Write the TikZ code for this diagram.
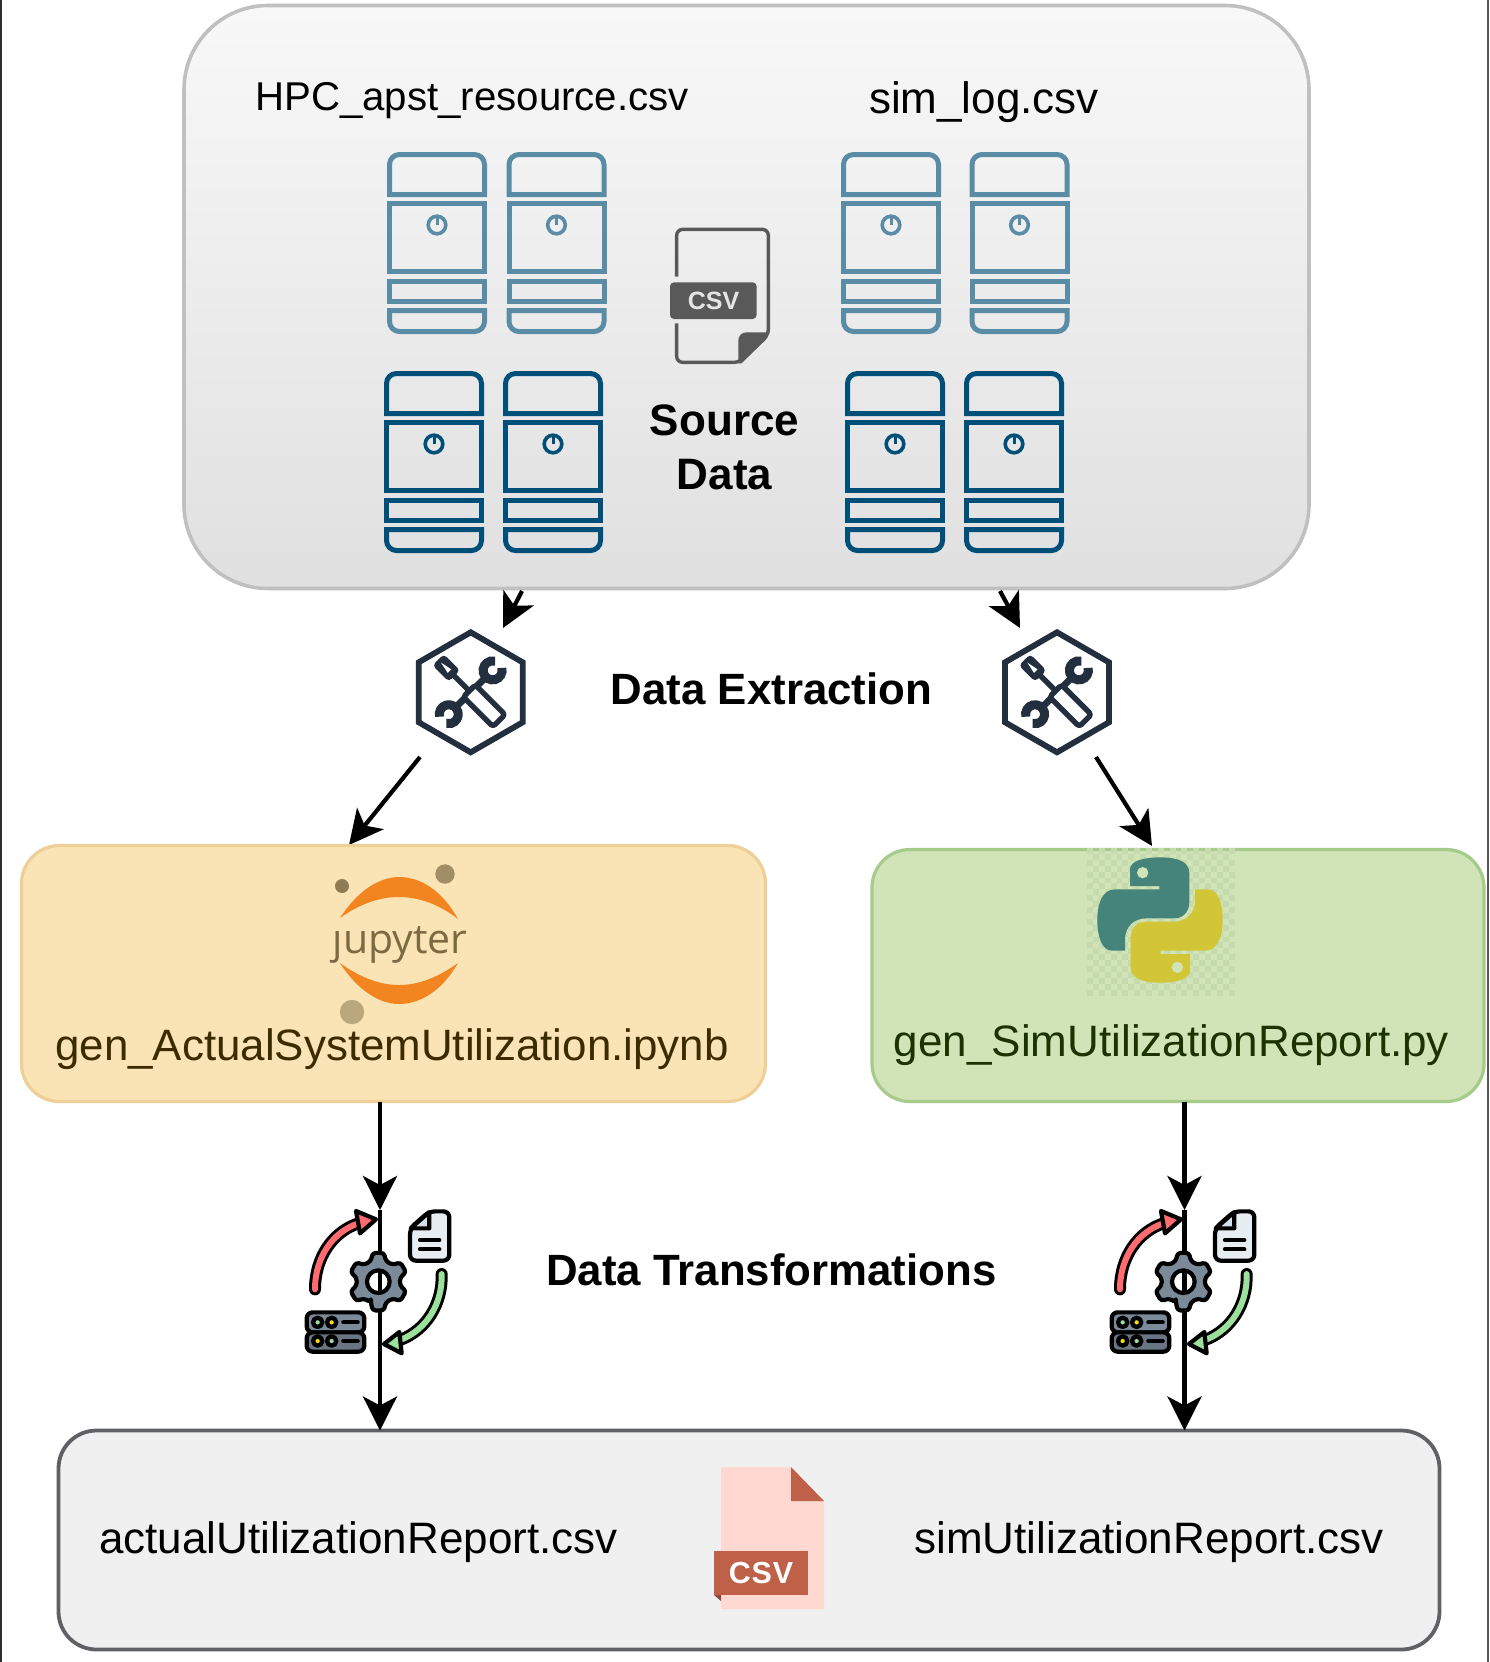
\documentclass[tikz,border=0pt]{standalone}
\usepackage{fontspec}
\setmainfont{Liberation Sans}
\newfontfamily\jupfont{Open Sans}
\newfontfamily\csvfont[LetterSpace=3]{Liberation Sans}
\usetikzlibrary{arrows.meta,shapes.geometric}
\definecolor{srvA}{HTML}{5B8CA5}
\definecolor{srvB}{HTML}{004F78}
\definecolor{hexc}{HTML}{232F3E}
\definecolor{docg}{HTML}{595959}
\definecolor{jupfill}{HTML}{FAE3B4}
\definecolor{jupline}{HTML}{EFCF98}
\definecolor{pyfill}{HTML}{D0E4B8}
\definecolor{pyline}{HTML}{A6CB8A}
\definecolor{repfill}{HTML}{F0F0F0}
\definecolor{repline}{HTML}{5F6164}
\definecolor{srcline}{HTML}{C0C0C0}
\definecolor{srctop}{HTML}{F8F8F8}
\definecolor{srcbot}{HTML}{E0E0E0}
\definecolor{jorange}{HTML}{F38520}
\definecolor{jtext}{HTML}{7B6A42}
\definecolor{pyblue}{HTML}{45847A}
\definecolor{pyyel}{HTML}{D3C636}
\definecolor{pycheck}{HTML}{C5DAAD}
\definecolor{gearc}{HTML}{7B8A99}
\definecolor{redar}{HTML}{FF6B6F}
\definecolor{grnar}{HTML}{9BE09B}
\definecolor{docc}{HTML}{E8EDF2}
\definecolor{docf}{HTML}{D5DFE8}
\definecolor{ripage}{HTML}{FFD9D1}
\definecolor{riband}{HTML}{BF6049}
\definecolor{jb}{HTML}{3D2B00}
\definecolor{pb}{HTML}{1C3300}
\tikzset{
  arr/.style={draw=black,line width=2.1pt,-{Stealth[length=17pt,width=17pt,inset=4.5pt]}},
  box/.style={rectangle,inner sep=0pt,outer sep=0pt},
  lbl/.style={inner sep=0pt,anchor=base,font=\fontsize{22}{26}\selectfont},
  blbl/.style={inner sep=0pt,anchor=base,font=\fontsize{21.9}{26}\selectfont\bfseries},
  hexn/.style={regular polygon,regular polygon sides=6,regular polygon rotate=30,draw=hexc,line width=2.9pt,minimum size=60pt,inner sep=0pt,outer sep=0pt},
  iconbox/.style={inner sep=0pt,outer sep=0pt,minimum width=71pt,minimum height=71pt},
  srvline/.style={line width=2.5pt},
  blk/.style={draw=black,line width=2.1pt,line join=round,line cap=round},
}
\newcommand{\srvicon}[3]{%
  \begin{scope}[shift={(#1,#2)},srvline,draw=#3,line join=miter]
    \draw[#3] (2.5,42.5) [rounded corners=5pt]-- (2.5,2.5) -- (97.5,2.5) [sharp corners]-- (97.5,42.5) -- cycle;
    \draw[#3] (2.5,51.5) rectangle (97.5,119.5);
    \draw[#3] (2.5,129.5) rectangle (97.5,149.5);
    \draw[#3] (2.5,158.5) [rounded corners=5pt]-- (2.5,179.5) -- (97.5,179.5) [sharp corners]-- (97.5,158.5) -- cycle;
    \draw[#3,line width=1.8pt] (50,73) circle (8.8);
    \draw[#3,line width=1.5pt] (50,63.5) -- (50,73);
  \end{scope}}
\newcommand{\toolicon}[2]{%
  \begin{scope}[shift={(#1,#2)},rotate=-45,hexc]
    \fill[hexc,rounded corners=2pt] (-46,-8) rectangle (-23,8);
    \fill[white] (-42,0) -- (-30,-2.5) -- (-30,2.5) -- cycle;
    \draw[hexc,line width=2.7pt] (-25,0) -- (-2,0);
    \draw[hexc,line width=2.7pt,line join=round,rounded corners=1.5pt] (-2,-8.5) rectangle (40,8.5);
  \end{scope}
  \begin{scope}[shift={(#1,#2)},rotate=45,hexc]
    \draw[hexc,line width=3.4pt] (7,0) -- (22,0);
    \draw[hexc,line width=3.4pt] (-7,0) -- (-22,0);
    \draw[hexc,line width=4.5pt] ([shift={(31,0)}]30:9.5) arc (30:330:9.5);
    \draw[hexc,line width=4.5pt] ([shift={(-31,0)}]210:9.5) arc (210:510:9.5);
  \end{scope}}
\newcommand{\xformicon}[1]{%
  \begin{scope}[shift={(#1,1190)},scale=1/3]
    % red arrow
    \draw[black,line width=6pt,line cap=round] (75,298) .. controls (75,200) and (130,125) .. (205,100);
    \draw[redar,line width=3pt,line cap=round] (75,298) .. controls (75,200) and (130,125) .. (205,100);
    \draw[blk,fill=redar] (258,88) -- (198,63) -- (210,130) -- cycle;
    % green arrow
    \draw[black,line width=6pt,line cap=round] (455,252) .. controls (458,340) and (410,420) .. (330,450);
    \draw[grnar,line width=3pt,line cap=round] (455,252) .. controls (458,340) and (410,420) .. (330,450);
    \draw[blk,fill=grnar] (282,462) -- (328,426) -- (335,490) -- cycle;
    % document
    \draw[blk,fill=docc,rounded corners=3pt] (360,115) -- (418,64) -- (478,64) -- (478,212) -- (360,212) -- cycle;
    \draw[blk,fill=docf] (362,115) -- (418,66) -- (418,115) -- cycle;
    \draw[blk] (390,150) -- (448,150);
    \draw[blk] (390,178) -- (448,178);
    % server
    \draw[blk,fill=gearc,rounded corners=3pt] (50,367) rectangle (223,427);
    \draw[blk,fill=gearc!85!black,rounded corners=3pt] (50,427) rectangle (223,485);
    \draw[blk,fill=gearc!60!black] (83,397) circle (14);
    \draw[blk,fill=gearc!60!black] (125,397) circle (14);
    \draw[blk,fill=gearc!60!black] (83,453) circle (14);
    \draw[blk,fill=gearc!60!black] (125,453) circle (14);
    \fill[grnar] (83,397) circle (6);
    \fill[yellow!80!orange] (125,397) circle (6);
    \fill[yellow!80!orange] (83,453) circle (6);
    \fill[grnar] (125,453) circle (6);
    \draw[blk] (160,397) -- (203,397);
    \draw[blk] (160,453) -- (203,453);
    % gear
    \begin{scope}[shift={(265,275)}]
      \draw[blk,fill=gearc,even odd rule,rounded corners=1.5pt] (110:66)
        \foreach \a in {90,30,-30,-90,-150,-210}{ -- ({\a+20}:66) -- ({\a+11}:88) -- ({\a-11}:88) -- ({\a-20}:66) } -- cycle
        (0,0) circle (34);
    \end{scope}
  \end{scope}}
\begin{document}
\begin{tikzpicture}[x=0.5pt,y=-0.5pt]
\useasboundingbox (0,0) rectangle (1490,1662);
\fill[white] (0,0) rectangle (1490,1662);
\fill[black!82] (0,0) rectangle (2.3,1662);
\fill[black!65] (1487,0) rectangle (1489,1662);

% source box
\node[box,minimum width=562.5pt,minimum height=291.5pt,rounded corners=42pt,draw=srcline,line width=1.8pt,top color=srctop,bottom color=srcbot] (src) at (746.5,297) {};
\node[lbl,font=\fontsize{20.1}{24}\selectfont] (hpc) at (472,110) {HPC\_apst\_resource.csv};
\node[lbl] (sim) at (984,113) {sim\_log.csv};
\srvicon{387}{152}{srvA}
\srvicon{506.5}{152}{srvA}
\srvicon{841}{152}{srvA}
\srvicon{969.5}{152}{srvA}
\srvicon{384}{371}{srvB}
\srvicon{503}{371}{srvB}
\srvicon{845}{371}{srvB}
\srvicon{964}{371}{srvB}
% csv doc
\begin{scope}[shift={(360,130)},scale=1/3]
  \draw[docg,line width=1.7pt,line join=round,rounded corners=3pt] (950,440) -- (950,298) -- (1225,298) -- (1225,615) -- (1140,697) -- (950,697) -- (950,580);
  \fill[docg] (1135,700) -- (1135,640) [rounded corners=4pt]-- (1135,607) [sharp corners]-- (1230,607) -- (1145,700) -- cycle;
  \fill[docg,rounded corners=2pt] (930,457) rectangle (1190,567);
\end{scope}
\node[inner sep=0pt,text=black!10,font=\fontsize{12.5}{14}\selectfont\bfseries] (csvt) at (713.5,300.5) {CSV};
\node[blbl,font=\fontsize{22}{26}\selectfont\bfseries] (sd1) at (724.5,435) {Source};
\node[blbl,font=\fontsize{22}{26}\selectfont\bfseries] (sd2) at (724.5,489) {Data};

% extraction
\node[hexn] (hexL) at (470.7,692.3) {};
\node[hexn] (hexR) at (1057,692.3) {};
\toolicon{470.7}{692.3}
\toolicon{1057}{692.3}
\node[blbl] (dext) at (771.5,704) {Data Extraction};
\coordinate (a1s) at (522,591);
\coordinate (a1t) at (503,628);
\coordinate (a2s) at (1000,591);
\coordinate (a2t) at (1020,628);
\coordinate (a3s) at (420,757);
\coordinate (a3t) at (349,845);
\coordinate (a4s) at (1096,757);
\coordinate (a4t) at (1152,846);
\draw[arr] (a1s) -- (a1t);
\draw[arr] (a2s) -- (a2t);
\draw[arr] (a3s) -- (a3t);
\draw[arr] (a4s) -- (a4t);

% jupyter box
\node[box,minimum width=372pt,minimum height=128pt,rounded corners=19pt,draw=jupline,line width=1.6pt,fill=jupfill] (jup) at (393.5,973.5) {};
\node[inner sep=0pt,anchor=base,text=jtext,font=\jupfont\fontsize{20.5}{24}\selectfont] (juptxt) at (400,953) {jupyter};
\fill[jupfill] (330,905) rectangle (350,928);
\fill[jorange] (340,918) .. controls (358,890) and (380,877) .. (399,877) .. controls (420,877) and (442,890) .. (458,919) .. controls (440,905) and (420,897) .. (399,897) .. controls (378,897) and (358,905) .. (340,918) -- cycle;
\fill[jorange] (340,963) .. controls (358,991) and (380,1004) .. (399,1004) .. controls (420,1004) and (442,991) .. (458,963) .. controls (440,976) and (420,985) .. (399,985) .. controls (378,985) and (358,976) .. (340,963) -- cycle;
\fill[jtext!85!jupfill] (342,886) circle (7);
\fill[jtext!70!jupfill] (445,874) circle (9.7);
\fill[jtext!50!jupfill] (352,1012) circle (12.2);
\node[lbl,text=jb,font=\fontsize{21.95}{26}\selectfont] (jupl) at (392,1060) {gen\_ActualSystemUtilization.ipynb};

% python box
\node[box,minimum width=306pt,minimum height=126pt,rounded corners=19pt,draw=pyline,line width=1.6pt,fill=pyfill] (py) at (1178,975.5) {};
\foreach \i in {0,...,24}{\foreach \j in {0,...,24}{%
  \pgfmathtruncatemacro\k{\i+\j}%
  \ifodd\k\else\fill[pycheck] ({1087+5.9*\i},{848+5.9*\j}) rectangle +(5.9,5.9);\fi}}
\begin{scope}[shift={(1070,830)},scale=1/3]
  \fill[pyblue] (180,168) -- (180,118) .. controls (180,95) and (215,82) .. (270,82) .. controls (325,82) and (358,95) .. (358,130) -- (358,215) .. controls (358,245) and (340,265) .. (312,265) -- (230,265) .. controls (190,265) and (167,290) .. (165,325) -- (165,362) -- (125,362) .. controls (95,360) and (82,320) .. (82,270) .. controls (82,215) and (100,178) .. (135,178) -- (268,178) -- (268,168) -- cycle;
  \fill[pyfill] (218,128) circle (17);
  \begin{scope}[rotate around={180:(270,270)}]
    \fill[pyyel] (180,168) -- (180,118) .. controls (180,95) and (215,82) .. (270,82) .. controls (325,82) and (358,95) .. (358,130) -- (358,215) .. controls (358,245) and (340,265) .. (312,265) -- (230,265) .. controls (190,265) and (167,290) .. (165,325) -- (165,362) -- (125,362) .. controls (95,360) and (82,320) .. (82,270) .. controls (82,215) and (100,178) .. (135,178) -- (268,178) -- (268,168) -- cycle;
    \fill[pyfill] (218,128) circle (17);
  \end{scope}
\end{scope}
\node[lbl,text=pb] (pyl) at (1171.5,1056) {gen\_SimUtilizationReport.py};

% report box
\node[box,minimum width=690.5pt,minimum height=109.5pt,rounded corners=19pt,draw=repline,line width=1.9pt,fill=repfill] (rep) at (749,1540) {};
\node[lbl] (repL) at (358.5,1553) {actualUtilizationReport.csv};
\node[lbl] (repR) at (1149,1553) {simUtilizationReport.csv};
\fill[ripage] (721,1467) -- (791,1467) -- (824,1501) -- (824,1609) -- (721,1609) -- cycle;
\fill[riband] (791,1467) -- (824,1501) -- (791,1501) -- cycle;
\fill[riband!75!black] (714,1595) -- (721,1595) -- (721,1601) -- cycle;
\fill[riband] (714,1551) rectangle (808,1595);
\node[inner sep=0pt,text=white,font=\csvfont\fontsize{15.2}{18}\selectfont\bfseries] (rcsv) at (761,1573) {CSV};

% transformations
\node[iconbox] (xfL) at (380,1281) {};
\node[iconbox] (xfR) at (1184.5,1281) {};
\draw[arr] (jup.south -| xfL.center) -- (xfL.north);
\draw[arr] (py.south -| xfR.center) -- (xfR.north);
\draw[arr] (xfL.north) -- (rep.north -| xfL.center);
\draw[arr] (xfR.north) -- (rep.north -| xfR.center);
\xformicon{290}
\xformicon{1095}
\node[blbl] (dtr) at (771.5,1285) {Data Transformations};
\end{tikzpicture}
\end{document}
